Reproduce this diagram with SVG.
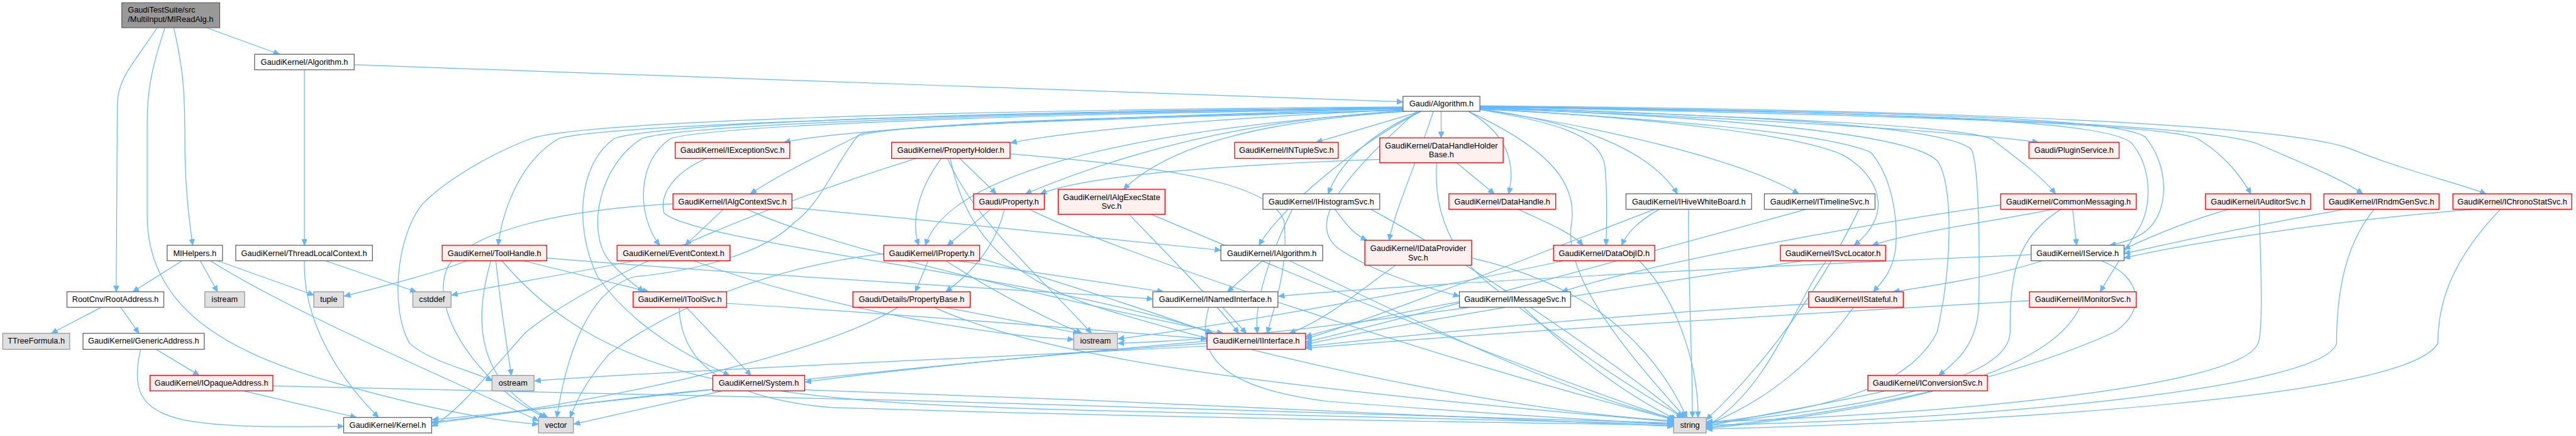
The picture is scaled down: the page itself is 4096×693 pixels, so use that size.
<svg xmlns="http://www.w3.org/2000/svg" width="4096" height="693" viewBox="0 0 4096 693">
<style>
.e{fill:none;stroke:#63b8ff;stroke-width:1.4;marker-end:url(#a)}
.r{fill:#fff0f0;stroke:#ff0000;stroke-width:1.5}
.w{fill:#ffffff;stroke:#666666;stroke-width:1.5}
.g{fill:#e0e0e0;stroke:#999999;stroke-width:1.5}
.t{fill:#999999;stroke:#666666;stroke-width:1.5}
text{font-family:"Liberation Sans",Arial,sans-serif;font-size:14.5px;fill:#000;text-anchor:middle}
text.l{text-anchor:start}
</style>
<defs>
<marker id="a" markerWidth="12" markerHeight="10" refX="11" refY="5" orient="auto" markerUnits="userSpaceOnUse"><path d="M0,0 L11,5 L0,10 z" fill="#63b8ff" stroke="#63b8ff"/></marker>
</defs>
<rect width="4096" height="693" fill="#ffffff"/>
<g transform="scale(0.88)">
<g id="edges">
<path class="e" d="M373,50 L505,98"/>
<path class="e" d="M284,50 C245,110 212,140 212,190 L210,527"/>
<path class="e" d="M314,50 C332,130 334,170 334,250 C334,350 344,410 348,443"/>
<path class="e" d="M298,50 C275,120 266,160 266,220 L266,390 C266,560 420,640 600,690 C760,735 880,760 973,766"/>
<path class="e" d="M640,117 L2535,184"/>
<path class="e" d="M550,126 L550,443"/>
<path class="e" d="M550,471 C548,560 590,660 684,754"/>
<path class="e" d="M588,471 L752,527"/>
<path class="e" d="M329,471 L240,527"/>
<path class="e" d="M362,471 L393,527"/>
<path class="e" d="M393,471 L567,533"/>
<path class="e" d="M380,471 C520,560 800,680 973,760"/>
<path class="e" d="M183,555 L93,602"/>
<path class="e" d="M218,555 L251,602"/>
<path class="e" d="M282,631 L360,678"/>
<path class="e" d="M254,631 C238,700 250,740 330,758 C420,775 540,770 621,770"/>
<path class="e" d="M440,706 L644,754"/>
<path class="e" d="M493,697 C1200,710 2500,745 3024,764"/>
<path class="e" d="M2535,196 C2000,212 1550,228 1417,257"/>
<path class="e" d="M2535,198 C2200,214 1950,234 1826,258"/>
<path class="e" d="M2568,201 L2378,257"/>
<path class="e" d="M2604,201 L2604,249"/>
<path class="e" d="M2674,195 C3100,212 3500,232 3683,257"/>
<path class="e" d="M2535,199 C2000,212 1600,222 1545,248 C1470,285 1400,320 1356,350"/>
<path class="e" d="M2535,200 C2300,215 2080,255 1853,350"/>
<path class="e" d="M2493,288 C2200,298 1960,318 1880,350"/>
<path class="e" d="M2540,201 C2300,218 2120,255 2030,342"/>
<path class="e" d="M2568,201 C2500,230 2425,280 2400,350"/>
<path class="e" d="M2653,201 C2720,240 2740,290 2726,350"/>
<path class="e" d="M2674,197 C2850,220 2980,270 3031,350"/>
<path class="e" d="M2674,198 C2900,230 3150,290 3250,350"/>
<path class="e" d="M2674,194 C3200,212 3560,228 3600,252 C3650,290 3690,320 3714,350"/>
<path class="e" d="M2674,193 C3400,208 3900,222 3970,250 C4020,280 4050,320 4067,350"/>
<path class="e" d="M2674,192 C3500,204 4000,228 4080,260 C4160,295 4230,322 4269,350"/>
<path class="e" d="M2674,191 C3600,199 4150,228 4250,270 C4350,310 4440,330 4492,350"/>
<path class="e" d="M2535,194 C1800,204 1100,224 1010,250 C940,290 908,380 900,443"/>
<path class="e" d="M2535,197 C1900,205 1300,225 1212,250 C1150,290 1150,390 1192,443"/>
<path class="e" d="M2535,196 C1900,203 1250,222 1160,250 C1080,300 1060,420 1100,470 C1125,500 1148,515 1163,527"/>
<path class="e" d="M2535,195 C1850,200 1200,220 1110,250 C1040,300 1040,420 1080,500 C1150,600 1260,650 1318,678"/>
<path class="e" d="M2535,193 C1700,199 1050,220 960,250 C880,280 800,330 762,370 C715,430 705,560 740,620 C780,655 850,668 889,688"/>
<path class="e" d="M2535,199 C2000,215 1600,226 1552,243 C1512,290 1482,370 1437,400 C1380,460 1250,490 1145,500 C1080,520 1030,600 1006,754"/>
<path class="e" d="M2540,201 C2100,230 1720,300 1672,443"/>
<path class="e" d="M2568,201 C2450,260 2310,380 2275,443"/>
<path class="e" d="M2590,201 C2565,280 2520,380 2510,434"/>
<path class="e" d="M2674,198 C2800,220 2890,240 2900,300 C2905,360 2903,410 2902,443"/>
<path class="e" d="M2560,201 C2450,300 2350,400 2420,450 C2480,490 2560,515 2637,535"/>
<path class="e" d="M2674,196 C3000,214 3250,244 3330,280 C3400,320 3420,390 3350,443"/>
<path class="e" d="M2674,197 C3000,214 3300,240 3380,275 C3420,320 3430,400 3425,450 C3420,490 3400,510 3385,527"/>
<path class="e" d="M2674,195 C3100,211 3450,240 3500,290 C3530,330 3528,480 3500,600 C3450,700 3300,740 3083,764"/>
<path class="e" d="M2674,194 C3200,209 3520,230 3562,270 C3578,300 3577,500 3575,560 C3570,620 3540,650 3503,678"/>
<path class="e" d="M2674,193 C3500,204 3800,220 3850,257 C3890,300 3890,380 3860,420 C3830,470 3810,500 3795,527"/>
<path class="e" d="M2674,192 C3500,203 3820,214 3876,247 C3920,300 3920,380 3880,415 C3860,432 3830,440 3812,443"/>
<path class="e" d="M2653,201 C2780,260 2850,320 2840,400 C2820,500 2950,650 3045,754"/>
<path class="e" d="M1734,286 L1800,350"/>
<path class="e" d="M1701,286 C1660,340 1645,400 1660,443"/>
<path class="e" d="M1656,286 C1450,350 1100,480 950,600 C870,690 820,750 780,770"/>
<path class="e" d="M1712,286 C1760,400 1900,520 1972,602"/>
<path class="e" d="M1717,286 C1740,400 1800,500 2000,560 C2400,680 2800,748 3024,760"/>
<path class="e" d="M1825,278 C2100,300 2300,330 2320,400 C2330,480 2300,560 2290,602"/>
<path class="e" d="M1815,378 C1800,440 1760,490 1709,527"/>
<path class="e" d="M1790,378 L1712,443"/>
<path class="e" d="M1860,378 C2000,450 2600,650 3024,758"/>
<path class="e" d="M1677,471 L1654,527"/>
<path class="e" d="M1709,471 C1800,530 1900,580 1955,602"/>
<path class="e" d="M1731,471 L2102,527"/>
<path class="e" d="M1769,466 C1950,520 2100,570 2190,602"/>
<path class="e" d="M1597,458 C1400,480 1200,560 1100,640 C1050,700 1040,730 1030,754"/>
<path class="e" d="M1707,555 L1950,602"/>
<path class="e" d="M1687,555 C1900,650 2300,700 3024,762"/>
<path class="e" d="M1623,555 C1500,630 1200,700 950,740 C880,752 820,760 780,764"/>
<path class="e" d="M2209,555 L2252,602"/>
<path class="e" d="M2184,555 C2160,640 2200,700 2400,725 C2700,748 2900,760 3024,766"/>
<path class="e" d="M2281,471 L2218,527"/>
<path class="e" d="M2330,471 C2600,600 2850,720 3028,756"/>
<path class="e" d="M2040,387 C2100,450 2200,550 2238,602"/>
<path class="e" d="M2080,387 C2300,480 2700,650 3026,758"/>
<path class="e" d="M1307,378 L1238,443"/>
<path class="e" d="M1350,378 C1500,450 2000,560 2210,602"/>
<path class="e" d="M1431,375 C1700,400 2000,430 2206,452"/>
<path class="e" d="M1216,368 C1000,380 850,420 810,480 C770,560 870,700 985,754"/>
<path class="e" d="M1277,286 C1220,310 1190,350 1200,385 C1260,440 1900,500 2192,602"/>
<path class="e" d="M844,471 C780,495 700,515 622,535"/>
<path class="e" d="M946,471 L1172,527"/>
<path class="e" d="M896,471 C905,560 915,620 924,678"/>
<path class="e" d="M887,471 C855,580 860,690 990,754"/>
<path class="e" d="M907,471 C1100,700 1400,728 2000,742 C2500,752 2900,760 3024,766"/>
<path class="e" d="M988,466 C1400,500 1800,520 2083,540"/>
<path class="e" d="M1146,471 C1000,500 900,515 816,533"/>
<path class="e" d="M1253,471 C1500,560 1800,608 1940,613"/>
<path class="e" d="M1240,555 L1357,678"/>
<path class="e" d="M1227,555 C1230,650 1300,718 1500,736 C2200,758 2800,764 3024,768"/>
<path class="e" d="M1313,548 C1600,565 1900,590 2181,612"/>
<path class="e" d="M1290,703 C1100,720 900,750 781,762"/>
<path class="e" d="M1305,706 C1200,730 1100,752 1037,766"/>
<path class="e" d="M1454,704 C2000,722 2700,754 3024,770"/>
<path class="e" d="M2181,620 C1600,660 1000,740 781,758"/>
<path class="e" d="M2181,616 C1900,640 1600,670 1455,690"/>
<path class="e" d="M2181,625 C1700,650 1200,670 966,688"/>
<path class="e" d="M2412,378 C2430,400 2440,420 2470,434"/>
<path class="e" d="M2335,378 C2300,450 2265,540 2272,602"/>
<path class="e" d="M2477,378 C2700,500 2950,680 3040,754"/>
<path class="e" d="M2632,294 L2700,350"/>
<path class="e" d="M2596,294 C2590,380 2620,460 2700,520 C2850,640 2980,720 3042,754"/>
<path class="e" d="M2743,378 C2790,400 2840,420 2860,443"/>
<path class="e" d="M2998,378 C2960,400 2940,420 2930,443"/>
<path class="e" d="M3051,378 C3050,500 3058,650 3058,754"/>
<path class="e" d="M2990,378 C2800,450 2500,570 2359,612"/>
<path class="e" d="M2962,471 C3040,550 3070,680 3068,754"/>
<path class="e" d="M2825,471 C2600,520 2200,590 2020,612"/>
<path class="e" d="M2522,479 C2450,530 2400,575 2330,602"/>
<path class="e" d="M2659,466 C2900,520 3000,650 3048,754"/>
<path class="e" d="M2637,545 C2500,570 2420,590 2359,608"/>
<path class="e" d="M2753,555 C2850,650 2950,720 3030,758"/>
<path class="e" d="M2657,555 C2400,590 2200,615 2020,620"/>
<path class="e" d="M3264,378 C3000,450 2600,560 2359,618"/>
<path class="e" d="M3359,378 C3300,500 3200,650 3083,758"/>
<path class="e" d="M3745,378 L3752,443"/>
<path class="e" d="M3615,370 C3400,400 3000,470 2822,527"/>
<path class="e" d="M3710,378 C3600,400 3450,420 3383,443"/>
<path class="e" d="M3724,378 C3640,430 3632,500 3632,600 C3630,700 3300,742 3083,766"/>
<path class="e" d="M3258,471 C3000,510 2600,570 2359,622"/>
<path class="e" d="M3300,471 C3240,550 3200,700 3083,770"/>
<path class="e" d="M3690,471 C3600,500 3500,515 3421,527"/>
<path class="e" d="M3670,460 C3200,480 2600,510 2310,535"/>
<path class="e" d="M3797,471 C3870,500 3880,560 3820,600 C3600,700 3300,750 3083,772"/>
<path class="e" d="M3268,549 C2900,570 2600,600 2359,626"/>
<path class="e" d="M3349,555 C3280,650 3200,720 3083,768"/>
<path class="e" d="M3667,543 C3200,570 2700,600 2359,629"/>
<path class="e" d="M3758,555 C3700,680 3400,742 3083,774"/>
<path class="e" d="M3406,706 C3300,730 3150,755 3083,770"/>
<path class="e" d="M4027,378 C3950,400 3880,430 3838,450"/>
<path class="e" d="M4082,378 C4086,500 4089,600 4080,620 C4050,700 3500,750 3083,762"/>
<path class="e" d="M4237,378 C4000,420 3900,445 3838,458"/>
<path class="e" d="M4290,378 C4230,450 4222,550 4222,620 C4200,700 3600,758 3083,768"/>
<path class="e" d="M4470,378 C4200,400 3950,440 3838,466"/>
<path class="e" d="M4518,378 C4420,480 4405,560 4405,620 C4350,720 3600,762 3083,775"/>
</g>
<g id="n_mireadalg"><rect class="t" x="220" y="5" width="177" height="45"/><text class="l" x="231" y="23">GaudiTestSuite/src</text><text class="l" x="231" y="40">/MultiInput/MIReadAlg.h</text></g>
<g id="n_gk_algorithm"><rect class="w" x="460" y="98" width="180" height="28"/><text x="550" y="117">GaudiKernel/Algorithm.h</text></g>
<g id="n_gaudi_algorithm"><rect class="w" x="2535" y="174" width="139" height="27"/><text x="2604.5" y="192">Gaudi/Algorithm.h</text></g>
<g id="n_iexceptionsvc"><rect class="r" x="1220" y="257" width="207" height="29"/><text x="1323.5" y="276">GaudiKernel/IExceptionSvc.h</text></g>
<g id="n_propertyholder"><rect class="r" x="1611" y="257" width="214" height="29"/><text x="1718" y="276">GaudiKernel/PropertyHolder.h</text></g>
<g id="n_intuplesvc"><rect class="r" x="2231" y="257" width="187" height="29"/><text x="2324.5" y="276">GaudiKernel/INTupleSvc.h</text></g>
<g id="n_datahandleholderbase"><rect class="r" x="2493" y="249" width="223" height="45"/><text x="2604.5" y="268">GaudiKernel/DataHandleHolder</text><text x="2604.5" y="284">Base.h</text></g>
<g id="n_pluginservice"><rect class="r" x="3666" y="257" width="163" height="29"/><text x="3747.5" y="276">Gaudi/PluginService.h</text></g>
<g id="n_ialgcontextsvc"><rect class="r" x="1216" y="350" width="215" height="28"/><text x="1323.5" y="369">GaudiKernel/IAlgContextSvc.h</text></g>
<g id="n_property"><rect class="r" x="1759" y="350" width="128" height="28"/><text x="1823" y="369">Gaudi/Property.h</text></g>
<g id="n_ialgexecstatesvc"><rect class="r" x="1912" y="342" width="193" height="45"/><text x="2008.5" y="361">GaudiKernel/IAlgExecState</text><text x="2008.5" y="377">Svc.h</text></g>
<g id="n_ihistogramsvc"><rect class="w" x="2282" y="350" width="211" height="28"/><text x="2387.5" y="369">GaudiKernel/IHistogramSvc.h</text></g>
<g id="n_datahandle"><rect class="r" x="2618" y="350" width="193" height="28"/><text x="2714.5" y="369">GaudiKernel/DataHandle.h</text></g>
<g id="n_ihivewhiteboard"><rect class="w" x="2938" y="350" width="227" height="28"/><text x="3051.5" y="369">GaudiKernel/IHiveWhiteBoard.h</text></g>
<g id="n_itimelinesvc"><rect class="w" x="3188" y="350" width="200" height="28"/><text x="3288" y="369">GaudiKernel/ITimelineSvc.h</text></g>
<g id="n_commonmessaging"><rect class="r" x="3615" y="350" width="245" height="28"/><text x="3737.5" y="369">GaudiKernel/CommonMessaging.h</text></g>
<g id="n_iauditorsvc"><rect class="r" x="3985" y="350" width="190" height="28"/><text x="4080" y="369">GaudiKernel/IAuditorSvc.h</text></g>
<g id="n_irndmgensvc"><rect class="r" x="4199" y="350" width="208" height="28"/><text x="4303" y="369">GaudiKernel/IRndmGenSvc.h</text></g>
<g id="n_ichronostatsvc"><rect class="r" x="4432" y="350" width="215" height="28"/><text x="4539.5" y="369">GaudiKernel/IChronoStatSvc.h</text></g>
<g id="n_mihelpers"><rect class="w" x="302" y="443" width="100" height="28"/><text x="352" y="462">MIHelpers.h</text></g>
<g id="n_threadlocalcontext"><rect class="w" x="426" y="443" width="247" height="28"/><text x="549.5" y="462">GaudiKernel/ThreadLocalContext.h</text></g>
<g id="n_toolhandle"><rect class="r" x="799" y="443" width="189" height="28"/><text x="893.5" y="462">GaudiKernel/ToolHandle.h</text></g>
<g id="n_eventcontext"><rect class="r" x="1115" y="443" width="204" height="28"/><text x="1217" y="462">GaudiKernel/EventContext.h</text></g>
<g id="n_iproperty"><rect class="r" x="1597" y="443" width="173" height="28"/><text x="1683.5" y="462">GaudiKernel/IProperty.h</text></g>
<g id="n_ialgorithm"><rect class="w" x="2206" y="443" width="184" height="28"/><text x="2298" y="462">GaudiKernel/IAlgorithm.h</text></g>
<g id="n_idataprovidersvc"><rect class="r" x="2466" y="434" width="193" height="45"/><text x="2562.5" y="453">GaudiKernel/IDataProvider</text><text x="2562.5" y="470">Svc.h</text></g>
<g id="n_dataobjid"><rect class="r" x="2807" y="443" width="183" height="28"/><text x="2898.5" y="462">GaudiKernel/DataObjID.h</text></g>
<g id="n_isvclocator"><rect class="r" x="3217" y="443" width="190" height="28"/><text x="3312" y="462">GaudiKernel/ISvcLocator.h</text></g>
<g id="n_iservice"><rect class="w" x="3670" y="443" width="168" height="28"/><text x="3754" y="462">GaudiKernel/IService.h</text></g>
<g id="n_rootaddress"><rect class="w" x="121" y="527" width="175" height="28"/><text x="208.5" y="546">RootCnv/RootAddress.h</text></g>
<g id="n_istream"><rect class="g" x="370" y="527" width="72" height="28"/><text x="406" y="546">istream</text></g>
<g id="n_tuple"><rect class="g" x="567" y="527" width="54" height="28"/><text x="594" y="546">tuple</text></g>
<g id="n_cstddef"><rect class="g" x="746" y="527" width="69" height="28"/><text x="780.5" y="546">cstddef</text></g>
<g id="n_itoolsvc"><rect class="r" x="1144" y="527" width="169" height="28"/><text x="1228.5" y="546">GaudiKernel/IToolSvc.h</text></g>
<g id="n_propertybase"><rect class="r" x="1541" y="527" width="212" height="28"/><text x="1647" y="546">Gaudi/Details/PropertyBase.h</text></g>
<g id="n_inamedinterface"><rect class="w" x="2083" y="527" width="226" height="28"/><text x="2196" y="546">GaudiKernel/INamedInterface.h</text></g>
<g id="n_imessagesvc"><rect class="w" x="2637" y="527" width="201" height="28"/><text x="2737.5" y="546">GaudiKernel/IMessageSvc.h</text></g>
<g id="n_istateful"><rect class="r" x="3268" y="527" width="171" height="28"/><text x="3353.5" y="546">GaudiKernel/IStateful.h</text></g>
<g id="n_imonitorsvc"><rect class="r" x="3667" y="527" width="193" height="28"/><text x="3763.5" y="546">GaudiKernel/IMonitorSvc.h</text></g>
<g id="n_ttreeformula"><rect class="g" x="5" y="602" width="121" height="29"/><text x="65.5" y="621">TTreeFormula.h</text></g>
<g id="n_genericaddress"><rect class="w" x="150" y="602" width="219" height="29"/><text x="259.5" y="621">GaudiKernel/GenericAddress.h</text></g>
<g id="n_iostream"><rect class="g" x="1940" y="602" width="79" height="29"/><text x="1979.5" y="621">iostream</text></g>
<g id="n_iinterface"><rect class="r" x="2181" y="602" width="178" height="29"/><text x="2270" y="621">GaudiKernel/IInterface.h</text></g>
<g id="n_iopaqueaddress"><rect class="r" x="271" y="678" width="222" height="28"/><text x="382" y="697">GaudiKernel/IOpaqueAddress.h</text></g>
<g id="n_ostream"><rect class="g" x="889" y="678" width="76" height="28"/><text x="927" y="697">ostream</text></g>
<g id="n_system"><rect class="r" x="1288" y="678" width="166" height="28"/><text x="1371" y="697">GaudiKernel/System.h</text></g>
<g id="n_iconversionsvc"><rect class="r" x="3375" y="678" width="216" height="28"/><text x="3483" y="697">GaudiKernel/IConversionSvc.h</text></g>
<g id="n_kernel"><rect class="w" x="621" y="754" width="159" height="28"/><text x="700.5" y="773">GaudiKernel/Kernel.h</text></g>
<g id="n_vector"><rect class="g" x="973" y="754" width="63" height="28"/><text x="1004.5" y="773">vector</text></g>
<g id="n_string"><rect class="g" x="3024" y="754" width="59" height="28"/><text x="3053.5" y="773">string</text></g>
</g>
</svg>
